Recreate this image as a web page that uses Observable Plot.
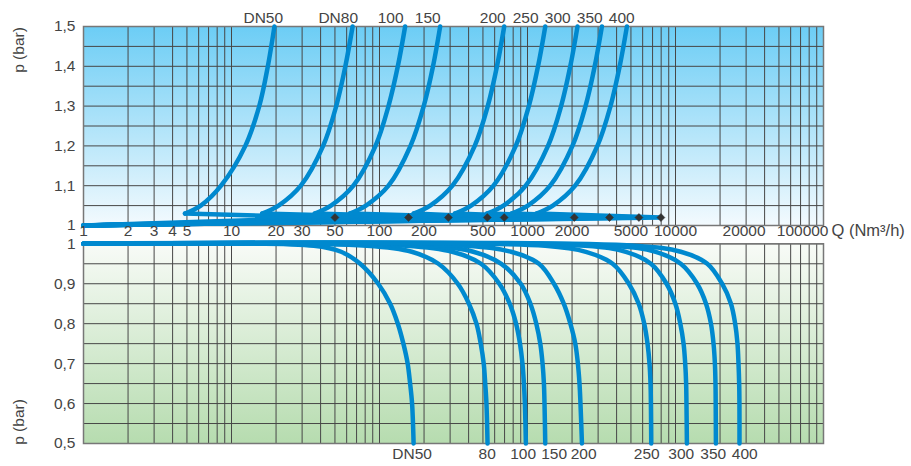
<!DOCTYPE html>
<html><head><meta charset="utf-8">
<script src="https://cdn.jsdelivr.net/npm/d3@7"></script>
<script src="https://cdn.jsdelivr.net/npm/@observablehq/plot@0.6"></script>
<style>
html,body{margin:0;padding:0;background:#fff;}
#chart{position:relative;width:911px;height:466px;overflow:hidden;font-family:'Liberation Sans',Arial,Helvetica,sans-serif;}
#chart svg{position:absolute;left:0;overflow:visible;}
.ylab{position:absolute;font-size:15.5px;color:#444;white-space:nowrap;transform:translate(-50%,-50%) rotate(-90deg);}
</style></head><body><div id="chart"></div>
<script>
// ---------- data ----------
const dnIndex = [0,1,2,3,4,5,6,7,8];
const topLabels = ["DN50","DN80","100","150","200","250","300","350","400"];
const bottomLabels = ["DN50","80","100","150","200","250","300","350","400"];

// upper panel: pressure levels and flow values along each curve
const topP = [1.03, 1.05, 1.1, 1.2, 1.3, 1.4, 1.5];
const topQ = [
  [4.85, 6.2, 8.5, 12.4, 15.4, 17.6, 19.5],
  [16.1, 20.8, 29.4, 41.6, 51, 58.8, 65.8],
  [36.5, 47, 66.6, 94, 115, 133, 149],
  [63, 81, 115, 162, 199, 230, 257],
  [170, 220, 311, 440, 539, 622, 696],
  [323, 416, 589, 833, 1021, 1178, 1318],
  [533, 688, 973, 1376, 1687, 1946, 2177],
  [780, 1006, 1423, 2012, 2467, 2846, 3183],
  [1150, 1484, 2099, 2967, 3638, 4197, 4695]
];
// diamond markers (upper panel)
const diamondQ = [50, 157, 292, 535, 696, 2070, 3580, 5660, 7970];
const diamondP = 1.02;
const baseStart = {q: 1, p: 1.0};

// lower panel
const bottomP = [1.0, 0.995, 0.98, 0.95, 0.9, 0.85, 0.8, 0.75, 0.7, 0.65, 0.6, 0.5];
const bottomQ = [
  [1, 36, 55, 74, 98, 118, 133, 145, 155, 161, 166, 170],
  [1, 82, 165, 250, 338, 402, 452, 483, 506, 518, 528, 537],
  [1, 151, 310, 485, 645, 758, 837, 890, 925, 946, 960, 975],
  [1, 220, 430, 665, 900, 1046, 1147, 1220, 1264, 1291, 1303, 1318],
  [1, 379, 775, 1195, 1510, 1758, 1948, 2103, 2190, 2246, 2280, 2333],
  [1, 1318, 2480, 3760, 4840, 5640, 6150, 6470, 6674, 6780, 6820, 6855],
  [1, 2455, 4620, 6820, 8700, 9980, 10780, 11340, 11630, 11800, 11860, 11940],
  [1, 3735, 7350, 10850, 14000, 16080, 17360, 18070, 18460, 18630, 18690, 18750],
  [1, 5350, 10850, 16400, 20650, 23700, 25300, 26230, 26650, 26930, 27040, 27060]
];

// label anchor positions
const topLabelQ = [16.4, 52.6, 119, 212, 582, 972, 1600, 2632, 4330];
const bottomLabelQ = [166, 534, 935, 1514, 2397, 6390, 10930, 17990, 29370];

// axes
const xTickValues = [1, 2, 3, 4, 5, 10, 20, 30, 50, 100, 200, 500, 1000, 2000, 5000, 10000];
const xTickLabels = ["1","2","3","4","5","10","20","30","50","100","200","500","1000","2000","5000","10000"];
const xGrid = [1, 10, 100, 1000, 10000].flatMap(d => [1,2,3,4,5,6,7,8,9].map(k => k * d)).concat([100000]);
const yTicksTop = [1, 1.1, 1.2, 1.3, 1.4, 1.5];
const yGridTop = [1, 1.05, 1.1, 1.15, 1.2, 1.25, 1.3, 1.35, 1.4, 1.45, 1.5];
const yTicksBottom = [0.5, 0.6, 0.7, 0.8, 0.9, 1];
const yGridBottom = [0.5, 0.55, 0.6, 0.65, 0.7, 0.75, 0.8, 0.85, 0.9, 0.95, 1];
const yTitle = "p (bar)";
const xTitle = "Q (Nm³/h)";

// ---------- tables ----------
const topCurves = dnIndex.flatMap(i => topQ[i].map((q, j) => ({dn: i, q, p: topP[j]})));
const topLinks = dnIndex.flatMap(i => [
  {dn: i, q: baseStart.q, p: baseStart.p},
  {dn: i, q: diamondQ[i], p: diamondP},
  {dn: i, q: topQ[i][0], p: topP[0]}
]);
const diamonds = dnIndex.map(i => ({q: diamondQ[i], p: diamondP}));
const bottomCurves = dnIndex.flatMap(i => bottomQ[i].map((q, j) => ({dn: i, q, p: bottomP[j]})));

// ---------- style ----------
const blue = "#0089cf";
const gridColor = "#474747";
const textColor = "#444";
const font = "'Liberation Sans', Arial, Helvetica, sans-serif";
const fmt = d => String(d).replace(".", ",");

function addGradient(svg, id, c0, c1) {
  const ns = "http://www.w3.org/2000/svg";
  const defs = document.createElementNS(ns, "defs");
  const g = document.createElementNS(ns, "linearGradient");
  g.setAttribute("id", id);
  g.setAttribute("x1", "0"); g.setAttribute("y1", "0");
  g.setAttribute("x2", "0"); g.setAttribute("y2", "1");
  [[0, c0], [1, c1]].forEach(([o, c]) => {
    const s = document.createElementNS(ns, "stop");
    s.setAttribute("offset", o); s.setAttribute("stop-color", c);
    g.appendChild(s);
  });
  defs.appendChild(g);
  svg.insertBefore(defs, svg.firstChild);
}

const common = {
  width: 911,
  marginLeft: 83, marginRight: 88,
  style: {fontSize: "15.5px", fontFamily: font, color: textColor, background: "transparent", overflow: "visible"},
  x: {type: "log", domain: [1, 100000], axis: null}
};

// ---------- upper panel ----------
const topPlot = Plot.plot({
  ...common,
  height: 240,
  marginTop: 26, marginBottom: 15,
  y: {domain: [1, 1.5], ticks: yTicksTop, tickFormat: fmt, tickSize: 0, tickPadding: 8, label: null},
  marks: [
    Plot.frame({fill: "url(#gradTop)", stroke: null}),
    Plot.ruleX(xGrid, {x: d => d, stroke: gridColor, strokeWidth: 1}),
    Plot.ruleY(yGridTop, {y: d => d, stroke: gridColor, strokeWidth: 1}),
    Plot.frame({stroke: "#777", strokeWidth: 1.5}),
    Plot.line(topLinks, {x: "q", y: "p", z: "dn", stroke: blue, strokeWidth: 4.5, strokeLinejoin: "miter"}),
    Plot.line(topCurves, {x: "q", y: "p", z: "dn", curve: "catmull-rom", stroke: blue, strokeWidth: 4.5}),
    Plot.dot(diamonds, {x: "q", y: "p", symbol: "diamond2", r: 3.6, fill: "#333", stroke: "#333", strokeWidth: 0.5}),
    Plot.text(dnIndex, {x: i => topLabelQ[i], text: i => topLabels[i], frameAnchor: "top", dy: -15, fill: textColor}),
    Plot.text(xTickValues, {x: d => d, text: (d, i) => xTickLabels[i], frameAnchor: "bottom", dy: 10, fill: textColor}),
    Plot.text(["20000"], {x: 20000, text: d => d, frameAnchor: "bottom", dy: 10, dx: 24, fill: textColor}),
    Plot.text(["100000"], {x: 100000, text: d => d, frameAnchor: "bottom", dy: 10, dx: 5, textAnchor: "end", fill: textColor}),
    Plot.text([xTitle], {x: 100000, text: d => d, frameAnchor: "bottom", dy: 10, dx: 8, textAnchor: "start", fontSize: 16.5, fill: textColor})
  ]
});
addGradient(topPlot, "gradTop", "#6ccdf5", "#f3fafe");
topPlot.style.top = "0px";

// ---------- lower panel ----------
const bottomPlot = Plot.plot({
  ...common,
  height: 228,
  marginTop: 5.3, marginBottom: 23,
  y: {domain: [0.5, 1], ticks: yTicksBottom, tickFormat: fmt, tickSize: 0, tickPadding: 8, label: null},
  marks: [
    Plot.frame({fill: "url(#gradBottom)", stroke: null}),
    Plot.ruleX(xGrid, {x: d => d, stroke: gridColor, strokeWidth: 1}),
    Plot.ruleY(yGridBottom, {y: d => d, stroke: gridColor, strokeWidth: 1}),
    Plot.frame({stroke: "#777", strokeWidth: 1.5}),
    Plot.line(bottomCurves, {x: "q", y: "p", z: "dn", curve: "catmull-rom", stroke: blue, strokeWidth: 4.5}),
    Plot.text(dnIndex, {x: i => bottomLabelQ[i], text: i => bottomLabels[i], frameAnchor: "bottom", dy: 15, fill: textColor})
  ]
});
addGradient(bottomPlot, "gradBottom", "#f8fbf7", "#b6dcaf");
bottomPlot.style.top = "238px";

const chart = document.getElementById("chart");
chart.appendChild(topPlot);
chart.appendChild(bottomPlot);

// rotated axis titles
[[19, 50], [19, 422]].forEach(([left, top]) => {
  const d = document.createElement("div");
  d.className = "ylab";
  d.textContent = yTitle;
  d.style.left = left + "px";
  d.style.top = top + "px";
  chart.appendChild(d);
});
</script>
</body></html>
